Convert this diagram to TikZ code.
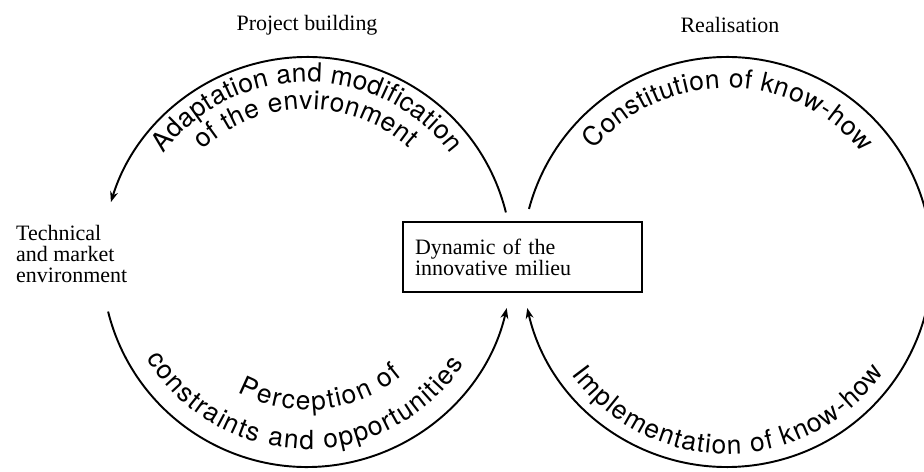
\documentclass[tikz,border=0pt]{standalone}
\usepackage{fontspec}
\setmainfont{Liberation Serif}
\newfontfamily\arcfont{TeX Gyre Heros}
\usetikzlibrary{arrows.meta,decorations.text}
\newcommand\arcsize{\arcfont\fontsize{15}{15}\selectfont}
\begin{document}
\begin{tikzpicture}[x=0.02cm,y=0.02cm,
	cyclearc/.style={line width=1.1pt,-{Stealth[length=6pt,width=4.5pt]}},
	arctext/.style={decorate,decoration={text along path,text align=fit to path,text={|\arcsize|#1}}},
	serif/.style={font=\fontsize{12.5}{12}\selectfont,align=left}]
		\useasboundingbox (0,0) rectangle (924,471);
		\coordinate (lc) at (307,209);
		\coordinate (rc) at (727,209);
		
		\node[serif] (build) at (307,446) {Project building};
		\node[serif] (real) at (730,446) {Realisation};
		\node[serif,anchor=west] (env) at (10,217) {Technical\\and market\\environment};
		\node[serif,draw,line width=0.8pt,minimum width=4.78cm,minimum height=1.4cm,text width=4.3cm] (milieu) at (522.5,214) {Dynamic of the\\innovative milieu};
		
		\draw[cyclearc] ([shift={(14:205)}]lc) arc[start angle=14,end angle=163,radius=205];
		\draw[cyclearc] ([shift={(194:205)}]lc) arc[start angle=194,end angle=347,radius=205];
		\draw[line width=1.1pt] ([shift={(165:205)}]rc) arc[start angle=165,end angle=-10,radius=205];
		\draw[cyclearc] ([shift={(10:205)}]rc) arc[start angle=10,end angle=-167,radius=205];
		
		\path[arctext={Adaptation and modification}] ([shift={(143:180)}]lc) arc[start angle=143,end angle=37,radius=180];
		\path[arctext={of the environment}] ([shift={(133:153)}]lc) arc[start angle=133,end angle=48,radius=153];
		\path[arctext={constraints and opportunities}] ([shift={(211:187)}]lc) arc[start angle=211,end angle=327,radius=187];
		\path[arctext={Perception of}] ([shift={(242:148)}]lc) arc[start angle=242,end angle=310,radius=148];
		\path[arctext={Constitution of know-how}] ([shift={(140:174)}]rc) arc[start angle=140,end angle=39,radius=174];
		\path[arctext={Implementation of know-how}] ([shift={(216:192)}]rc) arc[start angle=216,end angle=325,radius=192];
\end{tikzpicture}
\end{document}
